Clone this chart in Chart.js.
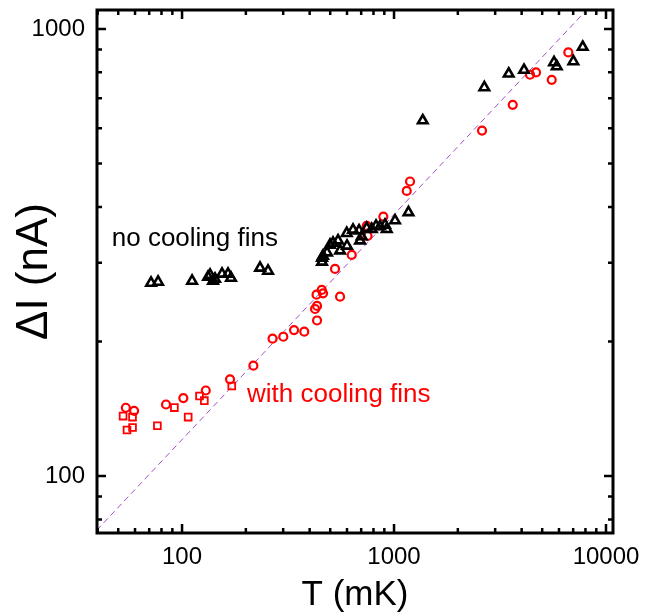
<!DOCTYPE html>
<html>
<head>
<meta charset="utf-8">
<script src="https://cdn.jsdelivr.net/npm/chart.js@4/dist/chart.umd.min.js"></script>
<style>
  html, body { margin: 0; padding: 0; background: #ffffff; }
  #wrap { width: 645px; height: 616px; position: relative; }
</style>
</head>
<body>
<div id="wrap"><canvas id="c" width="645" height="616"></canvas></div>
<script>
// ---- data ----
const noFinsT = [71.4, 77.1, 111.5, 132.7, 135.6, 140.0, 143.1, 154.4, 164.8, 170.2, 233.3, 254.5,
  457.5, 457.5, 462.5, 483.1, 499.0, 515.6, 544.4, 556.4, 600.2, 598.3, 640.7, 683.9, 691.4, 704.2,
  743.5, 785.0, 822.6, 859.0, 906.9, 923.9, 1011, 1170, 1366, 2667, 3475, 4105, 5686, 5856, 7013, 7765];
const noFinsI = [270.4, 271.8, 273.2, 278.9, 281.8, 273.2, 276.1, 283.3, 283.3, 277.5, 292.2, 287.7,
  301.4, 307.6, 310.8, 316.2, 328.9, 332.3, 336.3, 319.4, 327.3, 349.4, 355.4, 354.1, 336.3, 343.4,
  358.5, 356.7, 362.8, 361.6, 364.7, 356.7, 372.9, 389.0, 624.3, 740.1, 794.3, 809.6, 841.9, 824.8, 846.3, 911.6];

const finsCircT = [54.3, 59.4, 84.0, 101.4, 129.4, 168.4, 217, 267.3, 300.4, 337.6, 377.2, 424.1, 433.4,
  433.4, 431.0, 456.0, 462.5, 556.4, 526.8, 631.7, 743.5, 749.9, 890.3, 1148, 1190, 2601, 3631, 4380, 4676, 5546, 6641];
const finsCircI = [142.2, 140.0, 144.6, 149.5, 155.4, 164.6, 176.6, 203.0, 205.0, 212.2, 210.4, 236.5, 240.2,
  222.9, 254.6, 260.9, 256.4, 252.0, 290.7, 312.4, 362.8, 344.6, 380.6, 434.5, 456.0, 592.9, 676.9, 790.3, 799.6, 770.0, 886.3];

const finsSqT = [52.7, 58.4, 55.0, 58.4, 76.5, 92.0, 106.9, 120.9, 127.4, 171.6];
const finsSqI = [136.2, 135.5, 126.8, 128.4, 129.6, 142.3, 135.5, 151.1, 147.5, 159.0];

const guideT = [39.6, 8128];
const guideI = [75.7, 1105];

const xRange = [39.7, 10790];
const yRange = [74.6, 1103];
const xMajorTicks = [100, 1000, 10000];
const yMajorTicks = [100, 1000];
const minorMultipliers = [2, 3, 4, 5, 6, 7, 8, 9];

const labelNoFins = { text: 'no cooling fins', T: 46.6, I: 327, color: '#000000' };
const labelFins = { text: 'with cooling fins', T: 202.6, I: 146.5, color: '#ff0000' };

const xTitle = 'T (mK)';
const yTitle = '\u0394I (nA)';

// ---- helpers ----
const pts = (xs, ys) => xs.map((x, i) => ({ x: x, y: ys[i] }));
const FONT = '"Liberation Sans", Arial, sans-serif';

function tickList(majors, lo, hi) {
  const out = [];
  const d0 = Math.floor(Math.log10(lo)), d1 = Math.ceil(Math.log10(hi));
  for (let d = d0; d <= d1; d++) {
    const b = Math.pow(10, d);
    if (b >= lo && b <= hi) out.push({ v: b, major: true });
    minorMultipliers.forEach(m => { const v = m * b; if (v > lo && v < hi) out.push({ v: v, major: false }); });
  }
  return out;
}

function zeroPad(s) { s.paddingTop = 0; s.paddingBottom = 0; s.paddingLeft = 0; s.paddingRight = 0; }

const framePlugin = {
  id: 'frame',
  afterDatasetsDraw(chart) {
    const ctx = chart.ctx, a = chart.chartArea;
    const xs = chart.scales.x, ys = chart.scales.y;
    ctx.save();
    // annotations
    ctx.font = '26px ' + FONT;
    ctx.textBaseline = 'alphabetic';
    ctx.textAlign = 'left';
    [labelNoFins, labelFins].forEach(l => {
      ctx.fillStyle = l.color;
      ctx.fillText(l.text, xs.getPixelForValue(l.T), ys.getPixelForValue(l.I));
    });
    // ticks (inward, on all four sides)
    ctx.strokeStyle = '#000';
    ctx.lineWidth = 2.5;
    ctx.lineCap = 'butt';
    ctx.beginPath();
    tickList(xMajorTicks, xRange[0], xRange[1]).forEach(t => {
      const p = xs.getPixelForValue(t.v);
      const len = t.major ? 9 : 5;
      ctx.moveTo(p, a.bottom); ctx.lineTo(p, a.bottom - len);
      ctx.moveTo(p, a.top); ctx.lineTo(p, a.top + len);
    });
    tickList(yMajorTicks, yRange[0], yRange[1]).forEach(t => {
      const p = ys.getPixelForValue(t.v);
      const len = t.major ? 9 : 5;
      ctx.moveTo(a.left, p); ctx.lineTo(a.left + len, p);
      ctx.moveTo(a.right, p); ctx.lineTo(a.right - len, p);
    });
    ctx.stroke();
    // frame
    ctx.lineWidth = 3;
    ctx.strokeRect(a.left, a.top, a.right - a.left, a.bottom - a.top);
    ctx.restore();
  }
};

new Chart(document.getElementById('c'), {
  type: 'scatter',
  data: {
    datasets: [
      {
        label: 'guide',
        data: pts(guideT, guideI),
        showLine: true,
        pointRadius: 0,
        borderColor: '#a050c8',
        borderWidth: 1,
        borderDash: [6, 4],
        fill: false,
        order: 10
      },
      {
        label: 'with cooling fins (squares)',
        data: pts(finsSqT, finsSqI),
        pointStyle: 'rect',
        pointRadius: 4.8,
        borderWidth: 1.8,
        borderColor: '#ff0000',
        backgroundColor: 'rgba(0,0,0,0)',
        order: 3
      },
      {
        label: 'with cooling fins',
        data: pts(finsCircT, finsCircI),
        pointStyle: 'circle',
        pointRadius: 4,
        borderWidth: 2.2,
        borderColor: '#ff0000',
        backgroundColor: 'rgba(0,0,0,0)',
        order: 2
      },
      {
        label: 'no cooling fins',
        data: pts(noFinsT, noFinsI),
        pointStyle: 'triangle',
        pointRadius: 5.5,
        borderWidth: 2.6,
        borderColor: '#000000',
        backgroundColor: 'rgba(0,0,0,0)',
        order: 1
      }
    ]
  },
  options: {
    responsive: false,
    animation: false,
    events: [],
    layout: { padding: { left: 0, right: 32, top: 10, bottom: 0 } },
    plugins: { legend: { display: false }, tooltip: { enabled: false } },
    scales: {
      x: {
        type: 'logarithmic',
        min: xRange[0], max: xRange[1],
        afterBuildTicks: s => { s.ticks = xMajorTicks.map(v => ({ value: v })); },
        afterFit: s => { s.height = 83; zeroPad(s); },
        grid: { display: false, drawTicks: false },
        border: { display: false },
        ticks: {
          autoSkip: false, maxRotation: 0, padding: 10,
          color: '#000', font: { family: FONT, size: 24 },
          callback: v => String(v)
        },
        title: { display: true, text: xTitle, color: '#000', font: { family: FONT, size: 35 }, padding: { top: 0, bottom: 0 } }
      },
      y: {
        type: 'logarithmic',
        min: yRange[0], max: yRange[1],
        afterBuildTicks: s => { s.ticks = yMajorTicks.map(v => ({ value: v })); },
        afterFit: s => { s.width = 97; zeroPad(s); },
        grid: { display: false, drawTicks: false },
        border: { display: false },
        ticks: {
          autoSkip: false, padding: 12,
          color: '#000', font: { family: FONT, size: 24 },
          callback: v => String(v)
        },
        title: { display: true, text: yTitle, color: '#000', font: { family: FONT, size: 44 }, padding: { top: 8, bottom: 0 } }
      }
    }
  },
  plugins: [framePlugin]
});
</script>
</body>
</html>
